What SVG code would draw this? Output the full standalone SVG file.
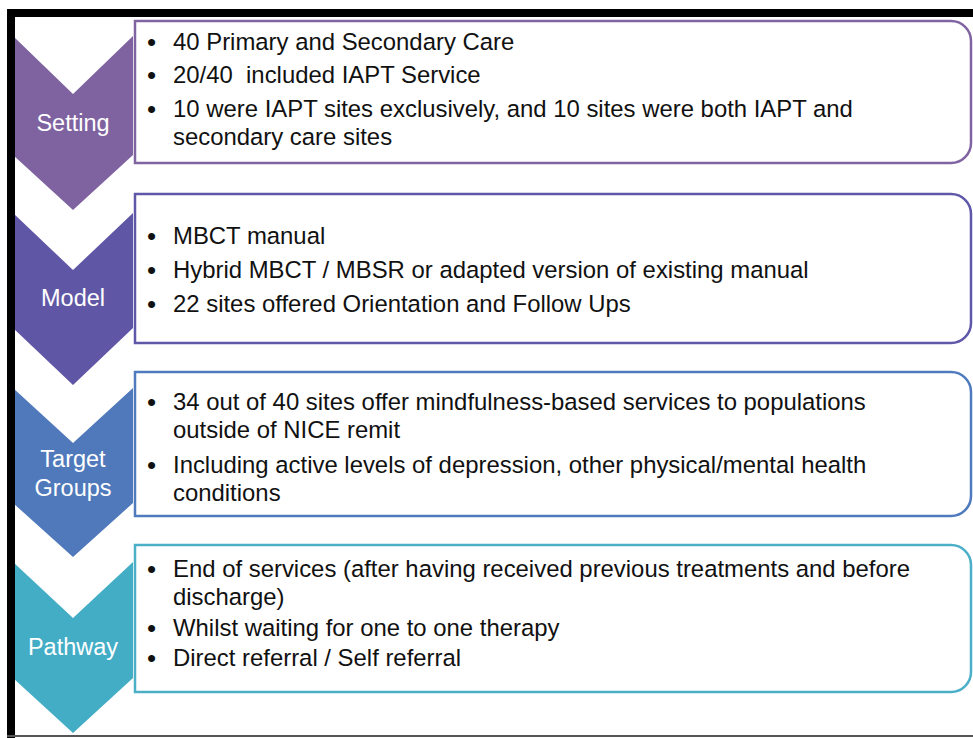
<svg xmlns="http://www.w3.org/2000/svg" width="973" height="738" viewBox="0 0 973 738">
<style>
.t{font-family:"Liberation Sans",Arial,sans-serif;font-size:23.9px;fill:#111111}
.b{font-size:26px}
.l{font-family:"Liberation Sans",Arial,sans-serif;font-size:23.5px;fill:#ffffff;text-anchor:middle}
.box{fill:#ffffff;stroke-width:2.5}
</style>
<rect x="0" y="0" width="973" height="738" fill="#ffffff"/>
<g id="setting">
<path d="M13,36 L73,94 L133,36 L133,155 L73,210 L13,155 Z" fill="#7F63A1"/>
<path class="box" stroke="#8064A2" d="M135,21 H951 A20,20 0 0 1 971,41 V143 A20,20 0 0 1 951,163 H135 Z"/>
<text class="l" x="73" y="131">Setting</text>
<text class="t" y="50"><tspan class="b" x="147" dy="1">•</tspan><tspan x="173" dy="-1">40 Primary and Secondary Care</tspan></text>
<text class="t" y="83" xml:space="preserve"><tspan class="b" x="147" dy="1">•</tspan><tspan x="173" dy="-1">20/40  included IAPT Service</tspan></text>
<text class="t" y="117"><tspan class="b" x="147" dy="1">•</tspan><tspan x="173" dy="-1">10 were IAPT sites exclusively, and 10 sites were both IAPT and</tspan><tspan x="173" dy="28">secondary care sites</tspan></text>
</g>
<g id="model">
<path d="M13,213 L73,270 L133,213 L133,328 L73,385 L13,328 Z" fill="#5F57A6"/>
<path class="box" stroke="#5F58A8" d="M135,194 H951 A20,20 0 0 1 971,214 V323 A20,20 0 0 1 951,343 H135 Z"/>
<text class="l" x="73" y="306">Model</text>
<text class="t" y="244"><tspan class="b" x="147" dy="1">•</tspan><tspan x="173" dy="-1">MBCT manual</tspan></text>
<text class="t" y="278"><tspan class="b" x="147" dy="1">•</tspan><tspan x="173" dy="-1">Hybrid MBCT / MBSR or adapted version of existing manual</tspan></text>
<text class="t" y="312"><tspan class="b" x="147" dy="1">•</tspan><tspan x="173" dy="-1">22 sites offered Orientation and Follow Ups</tspan></text>
</g>
<g id="target">
<path d="M13,388 L73,443 L133,388 L133,503 L73,557 L13,503 Z" fill="#4F79BB"/>
<path class="box" stroke="#4F7BBE" d="M135,372 H951 A20,20 0 0 1 971,392 V496 A20,20 0 0 1 951,516 H135 Z"/>
<text class="l" x="73" y="467">Target</text>
<text class="l" x="73" y="496">Groups</text>
<text class="t" y="410"><tspan class="b" x="147" dy="1">•</tspan><tspan x="173" dy="-1">34 out of 40 sites offer mindfulness-based services to populations</tspan><tspan x="173" dy="27.5">outside of NICE remit</tspan></text>
<text class="t" y="473"><tspan class="b" x="147" dy="1">•</tspan><tspan x="173" dy="-1">Including active levels of depression, other physical/mental health</tspan><tspan x="173" dy="28">conditions</tspan></text>
</g>
<g id="pathway">
<path d="M13,562 L73,618 L133,562 L133,678 L73,733 L13,678 Z" fill="#43ADC6"/>
<path class="box" stroke="#4BAFC8" d="M135,545 H951 A20,20 0 0 1 971,565 V672 A20,20 0 0 1 951,692 H135 Z"/>
<text class="l" x="73" y="655">Pathway</text>
<text class="t" y="577"><tspan class="b" x="147" dy="1">•</tspan><tspan x="173" dy="-1">End of services (after having received previous treatments and before</tspan><tspan x="173" dy="28">discharge)</tspan></text>
<text class="t" y="636"><tspan class="b" x="147" dy="1">•</tspan><tspan x="173" dy="-1">Whilst waiting for one to one therapy</tspan></text>
<text class="t" y="666"><tspan class="b" x="147" dy="1">•</tspan><tspan x="173" dy="-1">Direct referral / Self referral</tspan></text>
</g>
<g id="connectors"></g>
<g id="frame">
<rect x="7" y="9" width="966" height="8" fill="#000000"/>
<rect x="7" y="9" width="8" height="729" fill="#000000"/>
<rect x="7" y="735" width="966" height="2" fill="#555555"/>
</g>
</svg>
